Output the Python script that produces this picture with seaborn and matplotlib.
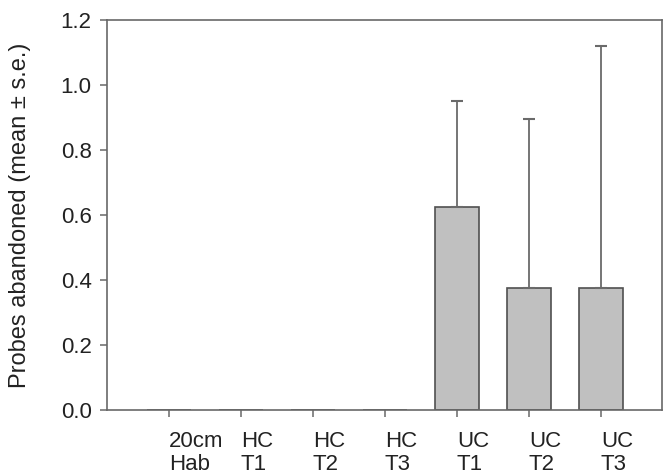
import numpy as np
import pandas as pd
import matplotlib
matplotlib.use('Agg')
import matplotlib.pyplot as plt
import seaborn as sns

# Data
groups = ['20cm\nHab', 'HC\nT1', 'HC\nT2', 'HC\nT3', 'UC\nT1', 'UC\nT2', 'UC\nT3']
means = [0.0, 0.0, 0.0, 0.0, 0.625, 0.375, 0.375]
se = [0.0, 0.0, 0.0, 0.0, 0.325, 0.52, 0.745]
y_ticks = [0.0, 0.2, 0.4, 0.6, 0.8, 1.0, 1.2]

df = pd.DataFrame({'group': groups, 'mean': means, 'se': se})

sns.set_style('ticks')
plt.rcParams['font.family'] = ['Liberation Sans', 'DejaVu Sans']

fig = plt.figure(figsize=(6.72, 4.75), dpi=100)
ax = fig.add_axes([107 / 672, 65 / 475, 555 / 672, 390 / 475])

sns.barplot(data=df, x='group', y='mean', color='#c0c0c0', saturation=1,
            edgecolor='#505050', linewidth=1.2, width=0.61, errorbar=None, ax=ax)

# Upper-only standard error bars
has_err = df['se'] > 0
xpos = np.arange(len(groups))[has_err.values]
ax.errorbar(xpos, df.loc[has_err, 'mean'],
            yerr=[np.zeros(has_err.sum()), df.loc[has_err, 'se']],
            fmt='none', ecolor='#6a6a6a', elinewidth=1.3, capsize=4, capthick=1.5)

ax.set_xlim(-0.86, 6.85)
ax.set_ylim(0, 1.2)
ax.set_yticks(y_ticks)
ax.set_yticklabels([f'{t:.1f}' for t in y_ticks])
ax.set_xticks(range(len(groups)))
ax.set_xticklabels(groups, ha='left', linespacing=1.15)

ax.set_xlabel('')
ax.set_ylabel('Probes abandoned (mean ± s.e.)', fontsize=17, color='#222222')
ax.yaxis.set_label_coords(-0.137, 0.5)

for side in ['top', 'right', 'left', 'bottom']:
    ax.spines[side].set_visible(True)
    ax.spines[side].set_color('#686868')
    ax.spines[side].set_linewidth(1.2)

ax.tick_params(axis='both', direction='out', length=5, width=1.1,
               color='#686868', labelsize=16, labelcolor='#222222')
ax.tick_params(axis='y', pad=6)
ax.tick_params(axis='x', pad=10)

fig.savefig('out.png', dpi=100)
